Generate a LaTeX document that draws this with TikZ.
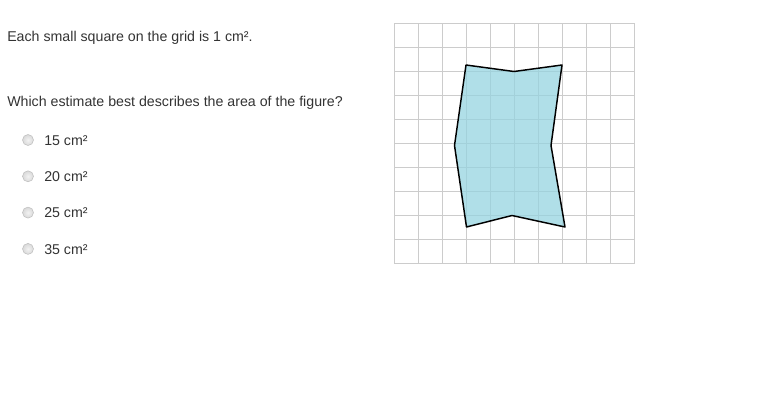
\documentclass[tikz,border=0pt]{standalone}
\usepackage{fontspec}
\setmainfont{Liberation Sans}
\usepackage{tikz}
\definecolor{qtext}{HTML}{333333}
\definecolor{gridline}{HTML}{CCCCCC}
\definecolor{shapefill}{HTML}{96D4E0}

\begin{document}
\begin{tikzpicture}[x=0.75pt, y=-0.75pt,
  qline/.style={anchor=base west, inner sep=0pt, text=qtext, font=\fontsize{10.65}{13}\selectfont},
  radio/.style={circle, draw=gray!50, inner color=gray!10, outer color=gray!30, minimum size=8.25pt, inner sep=0pt}]

\useasboundingbox (0,0) rectangle (760,410);

%\draw[step=1cm, gray, very thin, dotted] (0,0) grid (12,4);

\node at (7,41.5) [qline] (intro) {Each small square on the grid is 1 cm².};
\node at (7,107) [qline] (question) {Which estimate best describes the area of the figure?};

\foreach \val [count=\k] in {15,20,25,35} {
  \node at (28, 140+36.3*\k-36.3) [radio] (radio\k) {};
  \node at (44, 145.3+36.3*\k-36.3) [qline] (choice\k) {\val\ cm²};
}

% grid of 1 cm squares
\foreach \i in {0,...,10} {
  \draw[gridline, line width=0.75pt] (394+24*\i, 23.5) -- (394+24*\i, 263.5);
  \draw[gridline, line width=0.75pt] (394, 23.5+24*\i) -- (634, 23.5+24*\i);
}

\fill[shapefill, fill opacity=0.75] (466,65) -- (514,71.5) -- (562,65) -- (551,145.5) -- (565,227) -- (512,215.5) -- (466.5,227) -- (454.5,145.5) -- cycle;
\draw[black, line width=1.1pt, line join=round] (466,65) -- (514,71.5) -- (562,65) -- (551,145.5) -- (565,227) -- (512,215.5) -- (466.5,227) -- (454.5,145.5) -- cycle;

\end{tikzpicture}
\end{document}
